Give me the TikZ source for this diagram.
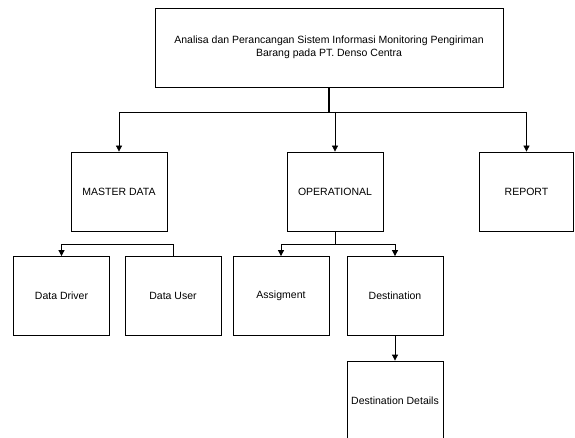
\documentclass[tikz,border=0pt]{standalone}
\usepackage{fontspec}
\setmainfont{Liberation Sans}
\usetikzlibrary{arrows.meta}
\begin{document}
\begin{tikzpicture}[x=1pt,y=-1pt,
  box/.style={draw,line width=0.8pt,inner sep=0pt,minimum width=96pt,minimum height=79pt,font=\fontsize{10.5}{12.5}\selectfont,align=center},
  conn/.style={line width=0.8pt},
  arr/.style={line width=0.8pt,-{Triangle[length=6pt,width=6pt]}}]
\useasboundingbox (0,0) rectangle (575,438);
\clip (0,0) rectangle (575,438);
\node[box,minimum width=348pt] (top) at (329,47.5) {Analisa dan Perancangan Sistem Informasi Monitoring Pengiriman\\Barang pada PT. Denso Centra};
\node[box] (master) at (119,191.5) {MASTER DATA};
\node[box] (op) at (335,191.5) {OPERATIONAL};
\node[box,minimum width=94pt] (report) at (526.5,191.5) {REPORT};
\node[box] (ddriver) at (61.5,296) {Data Driver};
\node[box] (duser) at (173,296) {Data User};
\node[box] (assig) at (281,296) {Assigment};
\node[box] (dest) at (395,296) {Destination};
\node[box] (ddet) at (395,400.5) {Destination Details};
\coordinate (bus) at (329,112);
\coordinate (mbus) at (0,244);
\coordinate (obus) at (0,244);
\draw[line width=1.6pt] (top.south) -- (bus);
\draw[conn] (master.north |- bus) -- (report.north |- bus);
\draw[arr] (master.north |- bus) -- (master.north);
\draw[arr] (op.north |- bus) -- (op.north);
\draw[arr] (report.north |- bus) -- (report.north);
\draw[arr] (duser.north) -- (duser.north |- mbus) -| (ddriver.north);
\draw[conn] (op.south) -- (op.south |- obus);
\draw[arr] (op.south |- obus) -| (assig.north);
\draw[arr] (op.south |- obus) -| (dest.north);
\draw[arr] (dest.south) -- (ddet.north);
\end{tikzpicture}
\end{document}
